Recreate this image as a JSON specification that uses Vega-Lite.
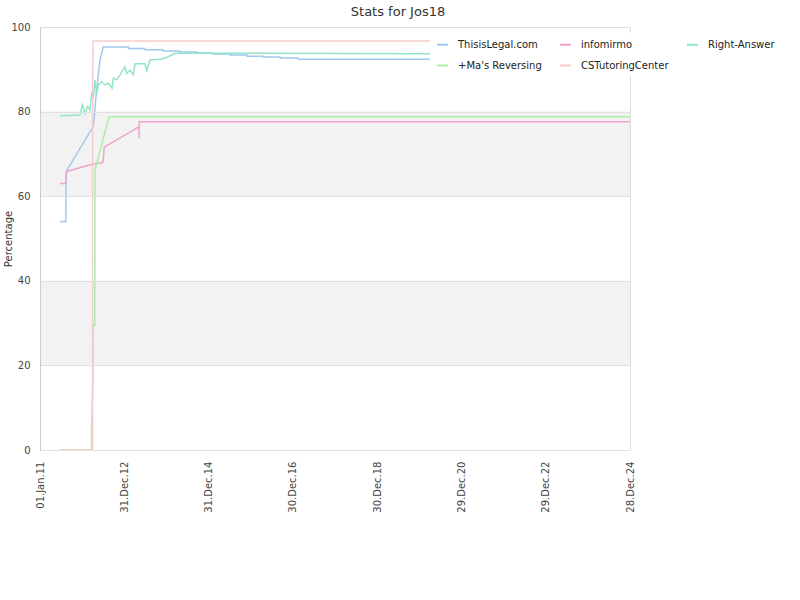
{
  "$schema": "https://vega.github.io/schema/vega-lite/v6.json",
  "width": 590,
  "height": 423,
  "autosize": "none",
  "padding": {"left": 40, "top": 27, "right": 170, "bottom": 150},
  "background": "white",
  "title": {"text": "Stats for Jos18", "anchor": "middle", "dx": 63, "offset": 3, "fontSize": 13, "font": "DejaVu Sans", "fontWeight": "normal", "color": "#333333"},
  "config": {"view": {"stroke": "#dddddd"}, "font": "DejaVu Sans"},
  "datasets": {
    "bands": [{"a": 20, "b": 40}, {"a": 60, "b": 80}],
    "stats": [
      {"s": "ThisisLegal.com", "d": "2011-06-23", "v": 54},
      {"s": "ThisisLegal.com", "d": "2011-08-13", "v": 54},
      {"s": "ThisisLegal.com", "d": "2011-08-14", "v": 64.6},
      {"s": "ThisisLegal.com", "d": "2011-08-24", "v": 66.2},
      {"s": "ThisisLegal.com", "d": "2012-04-04", "v": 76.4},
      {"s": "ThisisLegal.com", "d": "2012-04-15", "v": 78.5},
      {"s": "ThisisLegal.com", "d": "2012-04-27", "v": 82.7},
      {"s": "ThisisLegal.com", "d": "2012-05-15", "v": 87.5},
      {"s": "ThisisLegal.com", "d": "2012-06-04", "v": 92.2},
      {"s": "ThisisLegal.com", "d": "2012-07-02", "v": 95.3},
      {"s": "ThisisLegal.com", "d": "2013-02-05", "v": 95.3},
      {"s": "ThisisLegal.com", "d": "2013-02-06", "v": 94.9},
      {"s": "ThisisLegal.com", "d": "2013-06-27", "v": 94.9},
      {"s": "ThisisLegal.com", "d": "2013-06-28", "v": 94.6},
      {"s": "ThisisLegal.com", "d": "2013-11-30", "v": 94.6},
      {"s": "ThisisLegal.com", "d": "2013-12-01", "v": 94.3},
      {"s": "ThisisLegal.com", "d": "2014-04-27", "v": 94.3},
      {"s": "ThisisLegal.com", "d": "2014-04-28", "v": 94.1},
      {"s": "ThisisLegal.com", "d": "2014-09-21", "v": 94.1},
      {"s": "ThisisLegal.com", "d": "2014-09-22", "v": 93.85},
      {"s": "ThisisLegal.com", "d": "2015-02-06", "v": 93.85},
      {"s": "ThisisLegal.com", "d": "2015-02-07", "v": 93.6},
      {"s": "ThisisLegal.com", "d": "2015-07-04", "v": 93.6},
      {"s": "ThisisLegal.com", "d": "2015-07-05", "v": 93.4},
      {"s": "ThisisLegal.com", "d": "2015-11-28", "v": 93.4},
      {"s": "ThisisLegal.com", "d": "2015-11-29", "v": 93.1},
      {"s": "ThisisLegal.com", "d": "2016-04-14", "v": 93.1},
      {"s": "ThisisLegal.com", "d": "2016-04-15", "v": 92.9},
      {"s": "ThisisLegal.com", "d": "2016-09-09", "v": 92.9},
      {"s": "ThisisLegal.com", "d": "2016-09-10", "v": 92.7},
      {"s": "ThisisLegal.com", "d": "2017-02-12", "v": 92.7},
      {"s": "ThisisLegal.com", "d": "2017-02-13", "v": 92.4},
      {"s": "ThisisLegal.com", "d": "2020-04-01", "v": 92.4},

      {"s": "infomirmo", "d": "2011-06-23", "v": 63},
      {"s": "infomirmo", "d": "2011-08-13", "v": 63},
      {"s": "infomirmo", "d": "2011-08-14", "v": 65.8},
      {"s": "infomirmo", "d": "2012-04-04", "v": 67.6},
      {"s": "infomirmo", "d": "2012-06-18", "v": 67.9},
      {"s": "infomirmo", "d": "2012-07-01", "v": 68.2},
      {"s": "infomirmo", "d": "2012-07-10", "v": 71.6},
      {"s": "infomirmo", "d": "2013-05-07", "v": 76.4},
      {"s": "infomirmo", "d": "2013-05-08", "v": 73.7},
      {"s": "infomirmo", "d": "2013-05-09", "v": 77.6},
      {"s": "infomirmo", "d": "2024-12-28", "v": 77.6},

      {"s": "Right-Answer", "d": "2011-06-23", "v": 79.0},
      {"s": "Right-Answer", "d": "2011-12-13", "v": 79.2},
      {"s": "Right-Answer", "d": "2012-01-02", "v": 81.6},
      {"s": "Right-Answer", "d": "2012-01-26", "v": 79.6},
      {"s": "Right-Answer", "d": "2012-02-18", "v": 81.2},
      {"s": "Right-Answer", "d": "2012-03-09", "v": 80.4},
      {"s": "Right-Answer", "d": "2012-03-24", "v": 84.7},
      {"s": "Right-Answer", "d": "2012-04-07", "v": 83.1},
      {"s": "Right-Answer", "d": "2012-04-21", "v": 87.5},
      {"s": "Right-Answer", "d": "2012-05-06", "v": 84.3},
      {"s": "Right-Answer", "d": "2012-05-20", "v": 86.3},
      {"s": "Right-Answer", "d": "2012-06-18", "v": 87.1},
      {"s": "Right-Answer", "d": "2012-07-17", "v": 86.3},
      {"s": "Right-Answer", "d": "2012-08-15", "v": 86.7},
      {"s": "Right-Answer", "d": "2012-09-16", "v": 85.5},
      {"s": "Right-Answer", "d": "2012-09-27", "v": 87.9},
      {"s": "Right-Answer", "d": "2012-10-26", "v": 87.5},
      {"s": "Right-Answer", "d": "2012-11-24", "v": 88.7},
      {"s": "Right-Answer", "d": "2012-12-09", "v": 89.4},
      {"s": "Right-Answer", "d": "2013-01-06", "v": 90.6},
      {"s": "Right-Answer", "d": "2013-01-21", "v": 89.0},
      {"s": "Right-Answer", "d": "2013-02-19", "v": 89.8},
      {"s": "Right-Answer", "d": "2013-03-19", "v": 88.7},
      {"s": "Right-Answer", "d": "2013-04-03", "v": 91.3},
      {"s": "Right-Answer", "d": "2013-06-28", "v": 91.3},
      {"s": "Right-Answer", "d": "2013-07-13", "v": 89.7},
      {"s": "Right-Answer", "d": "2013-08-11", "v": 92.2},
      {"s": "Right-Answer", "d": "2013-11-05", "v": 92.4},
      {"s": "Right-Answer", "d": "2014-01-02", "v": 92.8},
      {"s": "Right-Answer", "d": "2014-01-31", "v": 93.2},
      {"s": "Right-Answer", "d": "2014-03-15", "v": 93.8},
      {"s": "Right-Answer", "d": "2020-04-01", "v": 93.7},

      {"s": "+Ma's Reversing", "d": "2011-06-23", "v": 0},
      {"s": "+Ma's Reversing", "d": "2012-03-22", "v": 0},
      {"s": "+Ma's Reversing", "d": "2012-03-23", "v": 5.9},
      {"s": "+Ma's Reversing", "d": "2012-04-05", "v": 17.7},
      {"s": "+Ma's Reversing", "d": "2012-04-06", "v": 29.5},
      {"s": "+Ma's Reversing", "d": "2012-04-20", "v": 29.5},
      {"s": "+Ma's Reversing", "d": "2012-04-21", "v": 66.2},
      {"s": "+Ma's Reversing", "d": "2012-08-21", "v": 78.8},
      {"s": "+Ma's Reversing", "d": "2024-12-28", "v": 78.8},

      {"s": "CSTutoringCenter", "d": "2011-06-23", "v": 0},
      {"s": "CSTutoringCenter", "d": "2012-03-31", "v": 0},
      {"s": "CSTutoringCenter", "d": "2012-04-01", "v": 89},
      {"s": "CSTutoringCenter", "d": "2012-04-06", "v": 96.7},
      {"s": "CSTutoringCenter", "d": "2020-04-01", "v": 96.7}
    ]
  },
  "layer": [
    {
      "data": {"name": "bands"},
      "mark": {"type": "rect", "fill": "#f2f2f2"},
      "encoding": {
        "y": {
          "field": "a", "type": "quantitative", "scale": {"domain": [0, 100]},
          "axis": {
            "title": "Percentage",
            "titleFontSize": 10,
            "titleFont": "DejaVu Sans",
            "titleFontWeight": "normal",
            "titleColor": "#333333",
            "titleX": -32,
            "titleY": 211.5,
            "titleAngle": 270,
            "titleAlign": "center",
            "titleBaseline": "middle",
            "values": [0, 20, 40, 60, 80, 100],
            "ticks": false,
            "labelPadding": 10,
            "grid": true,
            "gridColor": "#e0e0e0",
            "domainColor": "#cccccc",
            "labelFontSize": 10,
            "labelFont": "DejaVu Sans",
            "labelColor": "#444444",
            "zindex": 1
          }
        },
        "y2": {"field": "b"}
      }
    },
    {
      "data": {"name": "stats"},
      "mark": {"type": "line", "strokeWidth": 1.5, "interpolate": "linear"},
      "encoding": {
        "x": {
          "field": "d", "type": "temporal",
          "scale": {"type": "utc", "domain": [{"year": 2011, "month": 1, "date": 1, "utc": true}, {"year": 2024, "month": 12, "date": 28, "utc": true}]},
          "axis": {
            "title": null,
            "values": [
              {"year": 2011, "month": 1, "date": 1, "utc": true},
              {"year": 2012, "month": 12, "date": 31, "utc": true},
              {"year": 2014, "month": 12, "date": 31, "utc": true},
              {"year": 2016, "month": 12, "date": 30, "utc": true},
              {"year": 2018, "month": 12, "date": 30, "utc": true},
              {"year": 2020, "month": 12, "date": 29, "utc": true},
              {"year": 2022, "month": 12, "date": 29, "utc": true},
              {"year": 2024, "month": 12, "date": 28, "utc": true}
            ],
            "format": "%d.%b.%y",
            "labelAngle": 270,
            "labelFlush": false,
            "labelOverlap": false,
            "ticks": false,
            "labelPadding": 11,
            "grid": false,
            "domainColor": "#cccccc",
            "labelFontSize": 10,
            "labelFont": "DejaVu Sans",
            "labelColor": "#444444"
          }
        },
        "y": {
          "field": "v", "type": "quantitative",
          "scale": {"domain": [0, 100]},
          "axis": {
            "title": "Percentage",
            "titleFontSize": 10,
            "titleFont": "DejaVu Sans",
            "titleFontWeight": "normal",
            "titleColor": "#333333",
            "titleX": -32,
            "titleY": 211.5,
            "titleAngle": 270,
            "titleAlign": "center",
            "titleBaseline": "middle",
            "values": [0, 20, 40, 60, 80, 100],
            "ticks": false,
            "labelPadding": 10,
            "grid": true,
            "gridColor": "#e0e0e0",
            "domainColor": "#cccccc",
            "labelFontSize": 10,
            "labelFont": "DejaVu Sans",
            "labelColor": "#444444",
            "zindex": 1
          }
        },
        "color": {
          "field": "s", "type": "nominal",
          "scale": {
            "domain": ["ThisisLegal.com", "+Ma's Reversing", "infomirmo", "CSTutoringCenter", "Right-Answer"],
            "range": ["#a0c8f0", "#a8eea8", "#f0a4cc", "#f8cccc", "#90e6c6"]
          },
          "legend": {
            "orient": "none",
            "legendX": 391,
            "legendY": 6,
            "columns": 3,
            "title": null,
            "fillColor": "white",
            "padding": 5,
            "symbolType": "stroke",
            "symbolSize": 121,
            "symbolStrokeWidth": 2,
            "labelFontSize": 10,
            "labelFont": "DejaVu Sans",
            "labelColor": "#222222",
            "rowPadding": 9,
            "columnPadding": 14,
            "labelOffset": 9
          }
        }
      }
    }
  ]
}
